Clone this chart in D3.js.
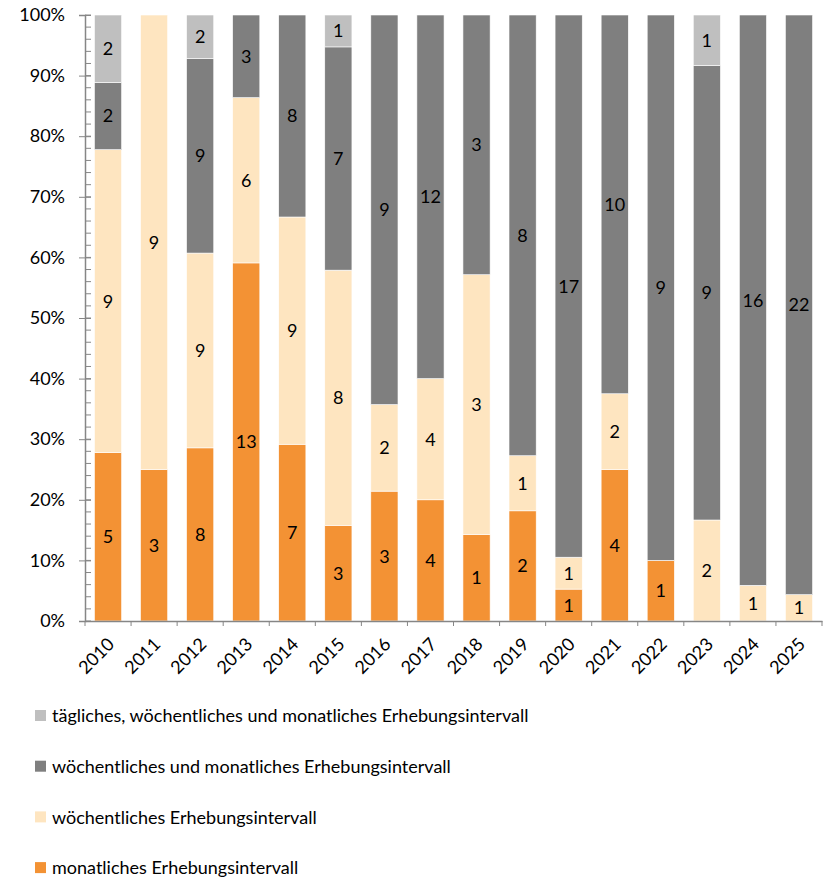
<!DOCTYPE html>
<html>
<head>
<meta charset="utf-8">
<script src="https://cdn.jsdelivr.net/npm/d3@7"></script>
<style>
  body { margin: 0; background: #fff; }
  text { font-family: Lato, "Open Sans", sans-serif; fill: #000; }
</style>
</head>
<body>
<div id="chart"></div>
<script>
const width = 825;
const height = 879;

// data
const years = ["2010","2011","2012","2013","2014","2015","2016","2017","2018","2019","2020","2021","2022","2023","2024","2025"];
const monatlich = [5, 3, 8, 13, 7, 3, 3, 4, 1, 2, 1, 4, 1, 0, 0, 0];
const woechentlich = [9, 9, 9, 6, 9, 8, 2, 4, 3, 1, 1, 2, 0, 2, 1, 1];
const woechMonat = [2, 0, 9, 3, 8, 7, 9, 12, 3, 8, 17, 10, 9, 9, 16, 22];
const taeglich = [2, 0, 2, 0, 0, 1, 0, 0, 0, 0, 0, 0, 0, 1, 0, 0];

const seriesNames = [
    "monatliches Erhebungsintervall",
    "wöchentliches Erhebungsintervall",
    "wöchentliches und monatliches Erhebungsintervall",
    "tägliches, wöchentliches und monatliches Erhebungsintervall"
];
const seriesColors = ["#f39234", "#fee5c0", "#7f7f7f", "#bfbfbf"];
const seriesValues = [monatlich, woechentlich, woechMonat, taeglich];
const yTicks = [0, 0.1, 0.2, 0.3, 0.4, 0.5, 0.6, 0.7, 0.8, 0.9, 1];

// table for stacking
const table = years.map((y, i) => {
    const row = { year: y };
    seriesNames.forEach((s, j) => row[s] = seriesValues[j][i]);
    return row;
});

const stacked = d3.stack()
    .keys(seriesNames)
    .offset(d3.stackOffsetExpand)(table);

const margin = { top: 15, left: 85, right: 3, bottom: 258 };
const innerW = width - margin.left - margin.right;
const innerH = height - margin.top - margin.bottom;
const fontSize = 18;

const xScale = d3.scaleBand()
    .domain(years)
    .range([0, innerW])
    .paddingInner(0.41)
    .paddingOuter(0.205);

const yScale = d3.scaleLinear()
    .domain([0, 1])
    .range([innerH, 0]);

const colorScale = d3.scaleOrdinal().domain(seriesNames).range(seriesColors);

const svg = d3.select("#chart").append("svg").attr("width", width).attr("height", height);
const g = svg.append("g").attr("transform", `translate(${margin.left},${margin.top})`);

// bars
const layer = g.selectAll("g.layer")
    .data(stacked)
    .join("g")
    .attr("class", "layer")
    .attr("fill", d => colorScale(d.key));

layer.selectAll("rect")
    .data(d => d.filter(p => p[1] - p[0] > 0))
    .join("rect")
    .attr("x", d => xScale(d.data.year))
    .attr("y", d => yScale(d[1]))
    .attr("width", xScale.bandwidth())
    .attr("height", d => yScale(d[0]) - yScale(d[1]))
    .attr("stroke", "#fff")
    .attr("stroke-width", 0.6);

// value labels
stacked.forEach(s => {
    g.append("g").selectAll("text")
        .data(s.filter(p => p.data[s.key] > 0))
        .join("text")
        .attr("x", d => xScale(d.data.year) + xScale.bandwidth() / 2)
        .attr("y", d => yScale((d[0] + d[1]) / 2))
        .attr("dy", "0.36em")
        .attr("text-anchor", "middle")
        .attr("font-size", fontSize)
        .text(d => d.data[s.key]);
});

// y axis
const yAxis = d3.axisLeft(yScale)
    .tickValues(yTicks)
    .tickFormat(d3.format(".0%"))
    .tickSize(6)
    .tickPadding(14);

const yG = g.append("g").attr("class", "y-axis").call(yAxis);
yG.selectAll("text").attr("font-size", fontSize).attr("fill", "#000");

// minor ticks (every 2%) on the inside
const minor = d3.range(0, 101, 2).map(d => d / 100);
yG.append("g").selectAll("line")
    .data(minor)
    .join("line")
    .attr("x1", 0)
    .attr("x2", 6)
    .attr("y1", d => yScale(d))
    .attr("y2", d => yScale(d))
    .attr("stroke", "#868686");
yG.selectAll(".tick line").attr("x2", -6).attr("x1", 6);

// x axis
const xAxis = d3.axisBottom(xScale).tickSize(0).tickPadding(0);
const xG = g.append("g")
    .attr("class", "x-axis")
    .attr("transform", `translate(0,${innerH})`)
    .call(xAxis);

xG.selectAll(".tick text")
    .attr("font-size", fontSize)
    .attr("fill", "#000")
    .attr("text-anchor", "end")
    .attr("transform", "translate(3,20) rotate(-45)")
    .attr("dy", "0.35em");

// boundary ticks between categories
xG.append("g").selectAll("line")
    .data(d3.range(0, years.length + 1))
    .join("line")
    .attr("x1", d => d * innerW / years.length)
    .attr("x2", d => d * innerW / years.length)
    .attr("y1", 0)
    .attr("y2", 5)
    .attr("stroke", "#868686");

svg.selectAll(".domain").attr("stroke", "#868686").attr("stroke-width", 1.5);
svg.selectAll(".tick line").attr("stroke", "#868686");

// legend
const legendData = seriesNames.map((s, i) => ({ name: s, color: seriesColors[i] })).reverse();
const legendG = svg.append("g").attr("class", "legendG");

const itemG = legendG.selectAll("g.item")
    .data(legendData)
    .join("g")
    .attr("class", "item")
    .attr("transform", (d, i) => `translate(35, ${716 + i * 50.7})`);

itemG.append("rect")
    .attr("x", 0)
    .attr("y", -6)
    .attr("width", 11)
    .attr("height", 11)
    .attr("fill", d => d.color);

itemG.append("text")
    .attr("x", 17)
    .attr("y", 0)
    .attr("dy", "0.35em")
    .attr("font-size", fontSize)
    .text(d => d.name);
</script>
</body>
</html>
